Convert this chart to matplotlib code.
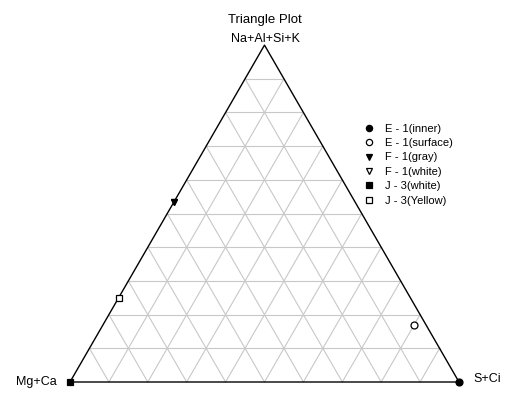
import numpy as np
import matplotlib
matplotlib.use("Agg")
import matplotlib.pyplot as plt

plt.rcParams['font.family'] = ['Liberation Sans', 'DejaVu Sans']

# Ternary components: (Mg+Ca, S+Ci, Na+Al+Si+K)
series_names = ["E - 1(inner)", "E - 1(surface)", "F - 1(gray)",
                "F - 1(white)", "J - 3(white)", "J - 3(Yellow)"]
mg_ca = [0.00, 0.03, 0.465, 0.465, 1.00, 0.75]
s_ci = [1.00, 0.80, 0.00, 0.00, 0.00, 0.00]
na_al_si_k = [0.00, 0.17, 0.535, 0.535, 0.00, 0.25]
markers = ["o", "o", "v", "v", "s", "s"]
filled = [True, False, True, False, True, False]

corner_labels = ["Mg+Ca", "S+Ci", "Na+Al+Si+K"]
title = "Triangle Plot"

H = np.sqrt(3) / 2
W_PX, H_PX = 506, 394
LEFT, BASE, SIDE = 70, 382, 389   # triangle placement in pixels


def to_xy(a, b, c):
    a, b, c = np.asarray(a, float), np.asarray(b, float), np.asarray(c, float)
    s = a + b + c
    b, c = b / s, c / s
    return b + c / 2, c * H


def px(xp, yp):
    """pixel position -> data coordinates"""
    return (xp - LEFT) / SIDE, (BASE - yp) / SIDE


fig = plt.figure(figsize=(W_PX / 100, H_PX / 100), dpi=100)
ax = fig.add_axes([0, 0, 1, 1])
ax.set_xlim(-LEFT / SIDE, (W_PX - LEFT) / SIDE)
ax.set_ylim(-(H_PX - BASE) / SIDE, BASE / SIDE)
ax.axis("off")

# grid lines, 10 divisions
grid_kw = dict(color="#c8c8c8", lw=0.8, zorder=1)
for i in range(1, 10):
    t = i / 10
    x0, y0 = to_xy(1 - t, 0, t)
    x1, y1 = to_xy(0, 1 - t, t)
    ax.plot([x0, x1], [y0, y1], **grid_kw)
    x0, y0 = to_xy(1 - t, t, 0)
    x1, y1 = to_xy(0, t, 1 - t)
    ax.plot([x0, x1], [y0, y1], **grid_kw)
    x0, y0 = to_xy(t, 1 - t, 0)
    x1, y1 = to_xy(t, 0, 1 - t)
    ax.plot([x0, x1], [y0, y1], **grid_kw)

# outline
ox, oy = to_xy([1, 0, 0, 1], [0, 1, 0, 0], [0, 0, 1, 0])
ax.plot(ox, oy, color="black", lw=1.0, zorder=2)

# data points
for i, name in enumerate(series_names):
    x, y = to_xy([mg_ca[i]], [s_ci[i]], [na_al_si_k[i]])
    ax.plot(x, y, linestyle="none", marker=markers[i], markersize=5,
            markeredgecolor="black", markeredgewidth=0.9,
            markerfacecolor="black" if filled[i] else "white",
            label=name, zorder=5 if filled[i] else 4, clip_on=False)

# labels
ax.text(*px(265, 23), title, ha="center", va="baseline", fontsize=9.5)
ax.text(*px(265, 41.5), corner_labels[2], ha="center", va="baseline", fontsize=9)
ax.text(*px(57, 385.5), corner_labels[0], ha="right", va="baseline", fontsize=9)
ax.text(*px(473, 382), corner_labels[1], ha="left", va="baseline", fontsize=9)

ax.legend(loc="upper left", bbox_to_anchor=(358 / W_PX, 1 - 118 / H_PX),
          frameon=False, fontsize=8, handlelength=1.0, handletextpad=0.95,
          labelspacing=0.4, borderpad=0, markerscale=0.9)

fig.savefig("out.png", dpi=100)
